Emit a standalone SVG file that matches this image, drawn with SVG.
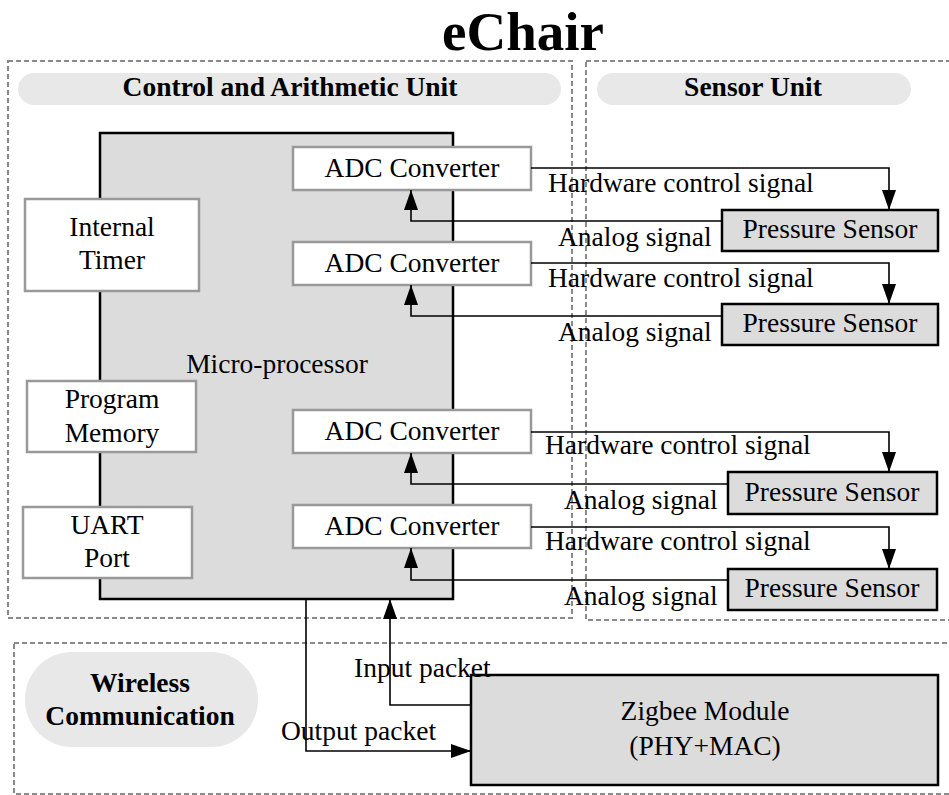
<svg xmlns="http://www.w3.org/2000/svg" width="949" height="795" viewBox="0 0 949 795">
<defs>
<style>
text{font-family:"Liberation Serif","Times New Roman",serif;fill:#000}
.t{font-size:27.5px}
.c{text-anchor:middle}
.b{font-weight:bold;font-size:27.5px}
.region{fill:none;stroke:#8a8a8a;stroke-width:2;stroke-dasharray:5 3}
.pill{fill:#e8e8e8;stroke:none}
.wbox{fill:#fff;stroke:#999;stroke-width:2.5}
.gbox{fill:#dcdcdc;stroke:#000;stroke-width:2.5}
.conn{fill:none;stroke:#000;stroke-width:1.6}
</style>
<marker id="ah" viewBox="0 0 20 14" refX="20" refY="7" markerWidth="20" markerHeight="14" markerUnits="userSpaceOnUse" orient="auto">
<path d="M0,0 L20,7 L0,14 z" fill="#000"/>
</marker>
</defs>
<rect width="949" height="795" fill="#fff"/>
<text x="523" y="50" class="c" style="font-size:55px;font-weight:bold">eChair</text>

<g id="control-unit">
<rect class="region" x="8" y="61" width="564" height="557"/>
<rect class="pill" x="18" y="73" width="543" height="32" rx="16"/>
<text x="290" y="96" class="b c">Control and Arithmetic Unit</text>
</g>
<g id="sensor-unit">
<rect class="region" x="586" y="61" width="380" height="559"/>
<rect class="pill" x="597" y="73" width="314" height="32" rx="16"/>
<text x="753" y="96" class="b c">Sensor Unit</text>
</g>
<g id="wireless-unit">
<rect class="region" x="14" y="643" width="960" height="151"/>
<rect class="pill" x="25" y="652" width="233" height="95" rx="47"/>
<text x="140" y="692" class="b c">Wireless</text>
<text x="140" y="725" class="b c">Communication</text>
</g>

<g id="microprocessor">
<rect class="gbox" x="100" y="133" width="353" height="466"/>
<text x="277" y="373" class="t c">Micro-processor</text>
</g>
<g id="internal-timer">
<rect class="wbox" x="25" y="199" width="174" height="92"/>
<text x="112" y="236" class="t c">Internal</text>
<text x="112" y="269" class="t c">Timer</text>
</g>
<g id="program-memory">
<rect class="wbox" x="27" y="381" width="169" height="71"/>
<text x="112" y="408" class="t c">Program</text>
<text x="112" y="442" class="t c">Memory</text>
</g>
<g id="uart-port">
<rect class="wbox" x="23" y="507" width="169" height="71"/>
<text x="107" y="534" class="t c">UART</text>
<text x="107" y="567" class="t c">Port</text>
</g>
<g id="adc1">
<rect class="wbox" x="293" y="147" width="238" height="43"/>
<text x="412" y="177" class="t c">ADC Converter</text>
</g>
<g id="adc2">
<rect class="wbox" x="293" y="242" width="238" height="43"/>
<text x="412" y="272" class="t c">ADC Converter</text>
</g>
<g id="adc3">
<rect class="wbox" x="293" y="410" width="238" height="43"/>
<text x="412" y="440" class="t c">ADC Converter</text>
</g>
<g id="adc4">
<rect class="wbox" x="293" y="505" width="238" height="43"/>
<text x="412" y="535" class="t c">ADC Converter</text>
</g>
<g id="sensor1">
<rect class="gbox" x="722" y="210" width="216" height="41"/>
<text x="830" y="238" class="t c">Pressure Sensor</text>
</g>
<g id="sensor2">
<rect class="gbox" x="722" y="304" width="216" height="41"/>
<text x="830" y="332" class="t c">Pressure Sensor</text>
</g>
<g id="sensor3">
<rect class="gbox" x="728" y="472" width="209" height="42"/>
<text x="832" y="501" class="t c">Pressure Sensor</text>
</g>
<g id="sensor4">
<rect class="gbox" x="728" y="569" width="209" height="41"/>
<text x="832" y="597" class="t c">Pressure Sensor</text>
</g>
<g id="zigbee">
<rect class="gbox" x="471" y="675" width="467" height="110"/>
<text x="705" y="720" class="t c">Zigbee Module</text>
<text x="705" y="755" class="t c">(PHY+MAC)</text>
</g>

<g id="connectors">
<path class="conn" d="M531,168 H889 V210" marker-end="url(#ah)"/>
<path class="conn" d="M722,221 H411 V190" marker-end="url(#ah)"/>
<path class="conn" d="M531,263 H889 V304" marker-end="url(#ah)"/>
<path class="conn" d="M722,316 H411 V285" marker-end="url(#ah)"/>
<path class="conn" d="M531,432 H889 V472" marker-end="url(#ah)"/>
<path class="conn" d="M728,484 H411 V453" marker-end="url(#ah)"/>
<path class="conn" d="M531,527 H889 V569" marker-end="url(#ah)"/>
<path class="conn" d="M728,580 H411 V548" marker-end="url(#ah)"/>
<path class="conn" d="M306,599 V751 H471" marker-end="url(#ah)"/>
<path class="conn" d="M471,705 H390 V599" marker-end="url(#ah)"/>
<text x="548" y="192" class="t">Hardware control signal</text>
<text x="558" y="246" class="t">Analog signal</text>
<text x="548" y="287" class="t">Hardware control signal</text>
<text x="558" y="341" class="t">Analog signal</text>
<text x="545" y="454" class="t">Hardware control signal</text>
<text x="564" y="509" class="t">Analog signal</text>
<text x="545" y="550" class="t">Hardware control signal</text>
<text x="564" y="605" class="t">Analog signal</text>
<text x="354" y="677" class="t">Input packet</text>
<text x="281" y="740" class="t">Output packet</text>
</g>
</svg>
